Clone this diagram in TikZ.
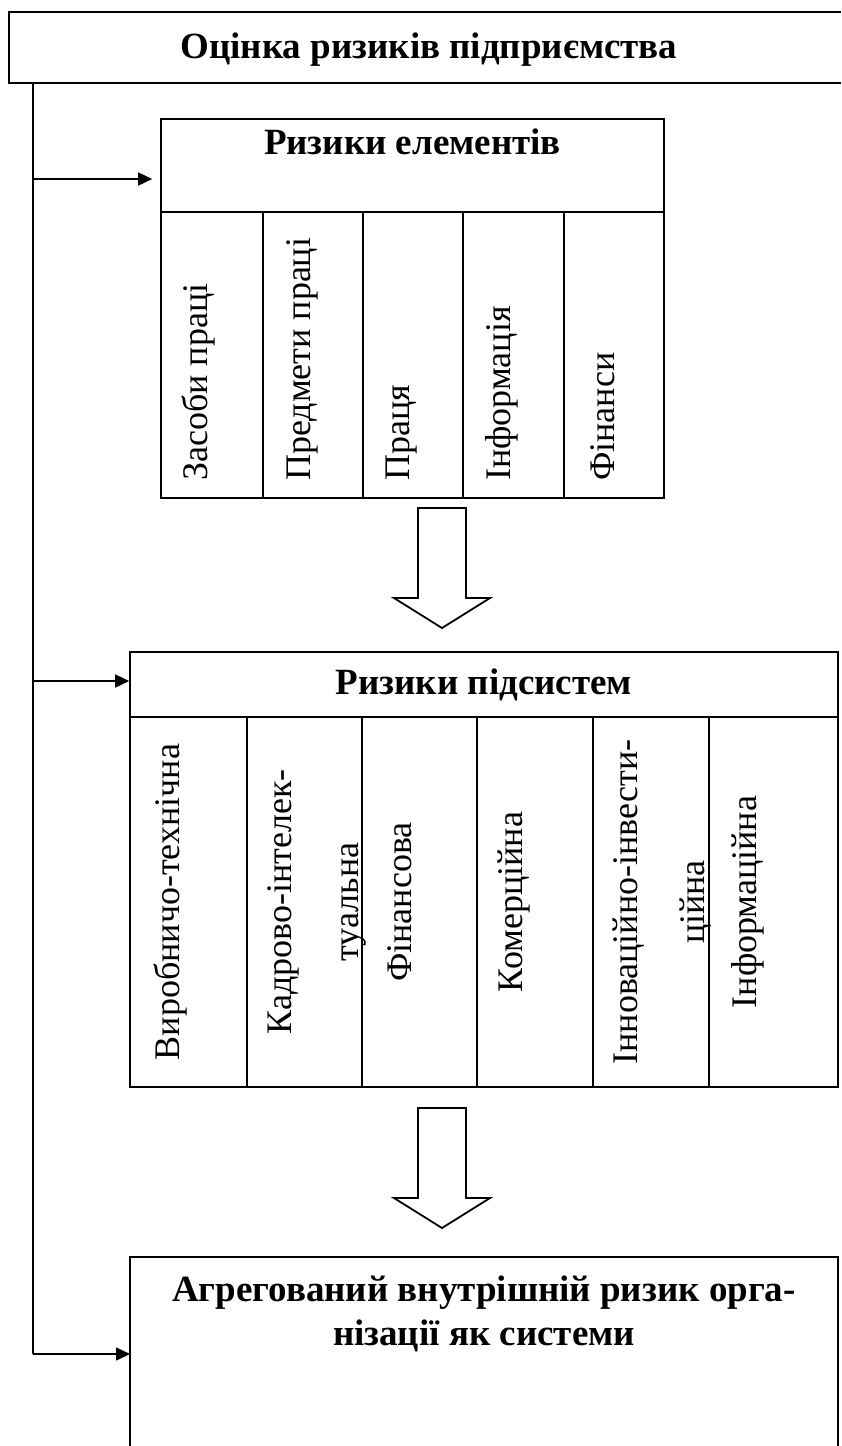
\documentclass[tikz,border=0pt]{standalone}
\usepackage{fontspec}
\setmainfont{Liberation Serif}
\usetikzlibrary{arrows.meta,positioning}

\tikzset{
  box/.style={line width=1.6pt},
  hbox/.style={draw, line width=1.6pt, inner sep=0pt},
  btxt/.style={font=\fontsize{37}{44}\bfseries\selectfont, inner sep=0pt},
  vtxt/.style={font=\fontsize{36}{67}\selectfont, inner sep=0pt, rotate=90, align=center},
  link/.style={line width=1.5pt, -{Triangle[length=14pt,width=13pt]}},
  fat/.style={draw, line width=1.8pt, fill=white, line join=miter},
}

\begin{document}
\begin{tikzpicture}[x=1pt, y=-1pt]
  \useasboundingbox (0,0) rectangle (841,1446);

  % top box, open on the right
  \draw[line width=2pt] (841,12) -- (9,12) -- (9,83) -- (841,83);
  \node[btxt, anchor=base] (title) at (429,58) {Оцінка ризиків підприємства};

  % risks of elements
  \node[hbox, minimum width=503pt, minimum height=93pt] (elem) at (412.5,165.5) {};
  \node[btxt, anchor=base] (elemt) at (412.5,154) {Ризики елементів};
  \draw[box] (161,212) rectangle (664,498);
  \foreach \x in {263,363,463,564}
    \draw[box] (\x,212) -- (\x,498);
  \foreach \x/\txt [count=\i] in {198/Засоби праці, 302/Предмети праці, 402/Праця, 502/Інформація, 603/Фінанси}
    \node[vtxt, anchor=west] (el\i) at (\x,481) {\txt};

  % block arrows
  \foreach \y in {508,1108}
    \draw[fat] (418,\y) -- ++(48,0) -- ++(0,90) -- ++(24,0) -- ++(-48,30) -- ++(-48,-30) -- ++(24,0) -- cycle;

  % risks of subsystems
  \node[hbox, btxt, minimum width=708pt, minimum height=65pt] (subs) at (484,684.5) {Ризики підсистем};
  \draw[box] (130,717) rectangle (838,1087);
  \foreach \x in {247,362,477,593,709}
    \draw[box] (\x,717) -- (\x,1087);
  \foreach \x/\txt [count=\i] in {170/Виробничо-технічна, 317/{Кадрово-інтелек-\\туальна}, 400/Фінансова, 514/Комерційна, 662/{Інноваційно-інвести-\\ційна}, 748/Інформаційна}
    \node[vtxt] (ss\i) at (\x,902) {\txt};

  % aggregated risk, open at the bottom
  \draw[box] (130,1446) -- (130,1257) -- (838,1257) -- (838,1446);
  \coordinate (aggnw) at (130,1257);
  \node[btxt, align=center, anchor=north] (agg) at (484,1276) {Агрегований внутрішній ризик орга-\\нізації як системи};

  % feedback line on the left
  \coordinate (trunk) at (33,83);
  \coordinate (j1) at (33,179);
  \coordinate (j2) at (33,681);
  \coordinate (j3) at (33,1354);
  \draw[line width=1.5pt] (trunk) -- (j3);
  \draw[link, shorten >=8pt] (j1) -- (j1 -| elem.west);
  \draw[link] (j2) -- (j2 -| subs.west);
  \draw[link] (j3) -- (j3 -| aggnw);
\end{tikzpicture}
\end{document}
